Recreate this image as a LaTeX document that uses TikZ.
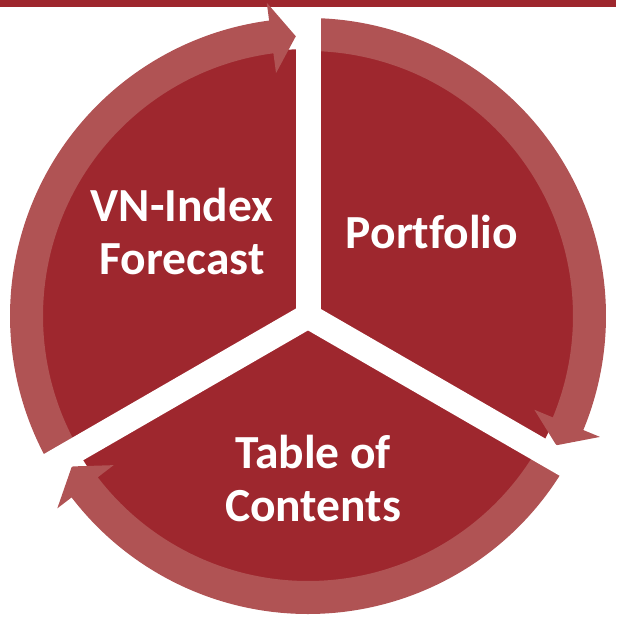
\documentclass[tikz,border=0pt]{standalone}
\usepackage{fontspec}
\setmainfont{Carlito}[Ligatures=NoCommon]
\definecolor{rossoscuro}{RGB}{158,39,46}
\definecolor{rossochiaro}{RGB}{176,83,84}

\begin{document}
\begin{tikzpicture}
    [x=1pt, y=1pt,
     freccia/.style={fill=rossochiaro},
     taglio/.style={draw=white, line width=25pt},
     etichetta/.style={text=white, font=\fontsize{47.5}{53}\selectfont\bfseries, align=center}]
    \useasboundingbox (0,0) rectangle (616,-620);
    \fill[rossoscuro] (0,0) rectangle (616,-7.5);

    \coordinate (centro) at (308,-316);
    \fill[rossoscuro] (centro) circle[radius=267];

    % tre frecce in senso orario
    \foreach \a [evaluate=\a as \b using \a-112.5, evaluate=\a as \c using \a-117.5] in {210, 90, -30} {
        \fill[freccia, shift={(centro)}] (\a:298) arc[start angle=\a, end angle=\b, radius=298]
            -- (\b:316) -- (\c:280) -- (\b:245) -- (\b:265)
            arc[start angle=\b, end angle=\a, radius=265] -- cycle;
    }
    % spazi bianchi tra i settori
    \foreach \a in {90, 210, 330}
        \draw[taglio] (centro) -- ++(\a:306);

    \node[etichetta] (previsione) at (182,-232) {VN-Index\\Forecast};
    \node[etichetta] (portafoglio) at (432,-232) {Portfolio};
    \node[etichetta] (indice) at (313,-479) {Table of\\Contents};
\end{tikzpicture}
\end{document}
